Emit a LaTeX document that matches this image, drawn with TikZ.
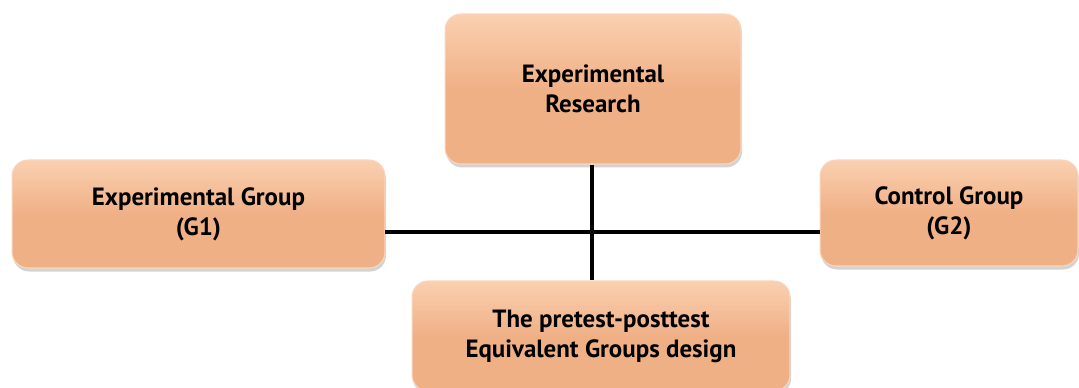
\documentclass[tikz,border=0pt]{standalone}
\usepackage{fontspec}
\setmainfont{PT Sans}
\usetikzlibrary{shadows,calc}
\definecolor{boxmain}{RGB}{240,176,134}
\definecolor{boxtop}{RGB}{250,208,176}
\definecolor{boxedge}{RGB}{248,214,190}
\tikzset{
  box/.style={rounded corners=0.32cm, draw=boxedge, line width=0.6pt,
    top color=boxtop, bottom color=boxmain, middle color=boxmain,
    drop shadow={opacity=0.35, shadow xshift=0.6pt, shadow yshift=-2pt},
    align=center, font=\fontsize{14.2}{17}\selectfont\bfseries, inner sep=0pt},
  link/.style={line width=2.1pt, black}
}
\begin{document}
\begin{tikzpicture}[x=0.02cm,y=-0.02cm]
\useasboundingbox (0,0) rectangle (1079,388);
\node[box, minimum width=5.92cm, minimum height=3.0cm] (top) at (593,89) {Experimental\\Research};
\node[box, minimum width=7.46cm, minimum height=2.16cm] (left) at (198.5,214) {Experimental Group\\(G1)};
\node[box, minimum width=5.16cm, minimum height=2.12cm] (right) at (949,213) {Control Group\\(G2)};
\node[box, minimum width=7.56cm, minimum height=2.2cm] (bottom) at (601,336) {The pretest-posttest\\Equivalent Groups design};
\coordinate (j) at (592,232);
\draw[link] (top.south -| j) -- (bottom.north -| j);
\draw[link] (left.east |- j) -- (right.west |- j);
\end{tikzpicture}
\end{document}
